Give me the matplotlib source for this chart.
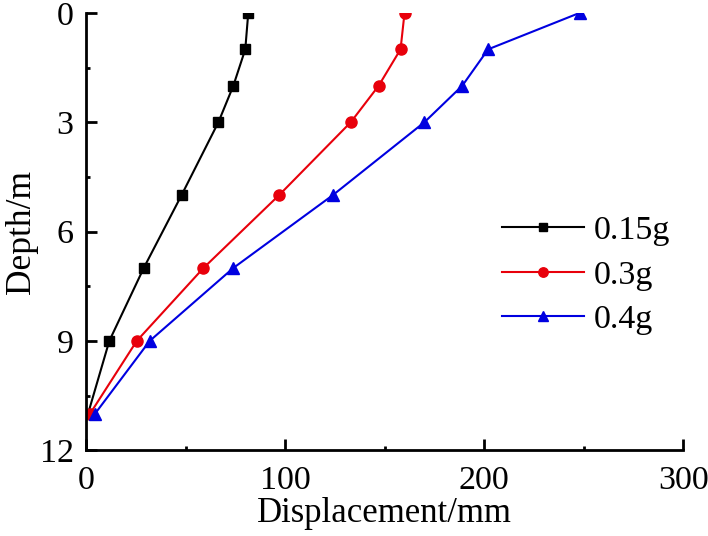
import matplotlib
matplotlib.use("Agg")
from matplotlib import pyplot as plt
from matplotlib.ticker import MultipleLocator

depth = [0, 1, 2, 3, 5, 7, 9, 11]
disp015 = [81.5, 80, 74, 66.5, 48, 29, 11.7, 1]
disp03 = [160, 158, 147, 133, 97, 59, 25.5, 2]
disp04 = [248, 202, 189, 170, 124, 74, 32, 4.5]
labels = ["0.15g", "0.3g", "0.4g"]

plt.rcParams['font.family'] = ['Liberation Serif', 'DejaVu Serif']

fig = plt.figure(figsize=(7.08, 5.36), dpi=100)
ax = fig.add_axes([0.1215, 0.160, 0.8435, 0.816])

ax.plot(disp015, depth, color='black', marker='s', ms=7, lw=1.5, label=labels[0])
ax.plot(disp03, depth, color='#e8000b', marker='o', ms=8, lw=1.5, label=labels[1])
ax.plot(disp04, depth, color='#0000e0', marker='^', ms=9, lw=1.5, label=labels[2])

ax.set_xlim(0, 300)
ax.set_ylim(12, 0)
ax.xaxis.set_major_locator(MultipleLocator(100))
ax.xaxis.set_minor_locator(MultipleLocator(50))
ax.yaxis.set_major_locator(MultipleLocator(3))
ax.yaxis.set_minor_locator(MultipleLocator(1.5))

for s in ['top', 'right']:
    ax.spines[s].set_visible(False)
for s in ['left', 'bottom']:
    ax.spines[s].set_linewidth(2)

ax.tick_params(which='major', direction='in', length=8, width=2, labelsize=24.5)
ax.tick_params(axis='x', which='major', pad=11)
ax.tick_params(axis='y', which='major', pad=9)
ax.tick_params(which='minor', direction='in', length=3, width=2)

ax.set_xlabel("Displacement/mm", fontsize=25, labelpad=1)
ax.set_ylabel("Depth/m", fontsize=25.5, labelpad=1)

ax.legend(loc='center left', bbox_to_anchor=(0.645, 0.40), frameon=False, fontsize=24.5,
          handlelength=2.4, handletextpad=0.3, labelspacing=0.4, markerscale=0.85)

fig.savefig("out.png", dpi=100)
